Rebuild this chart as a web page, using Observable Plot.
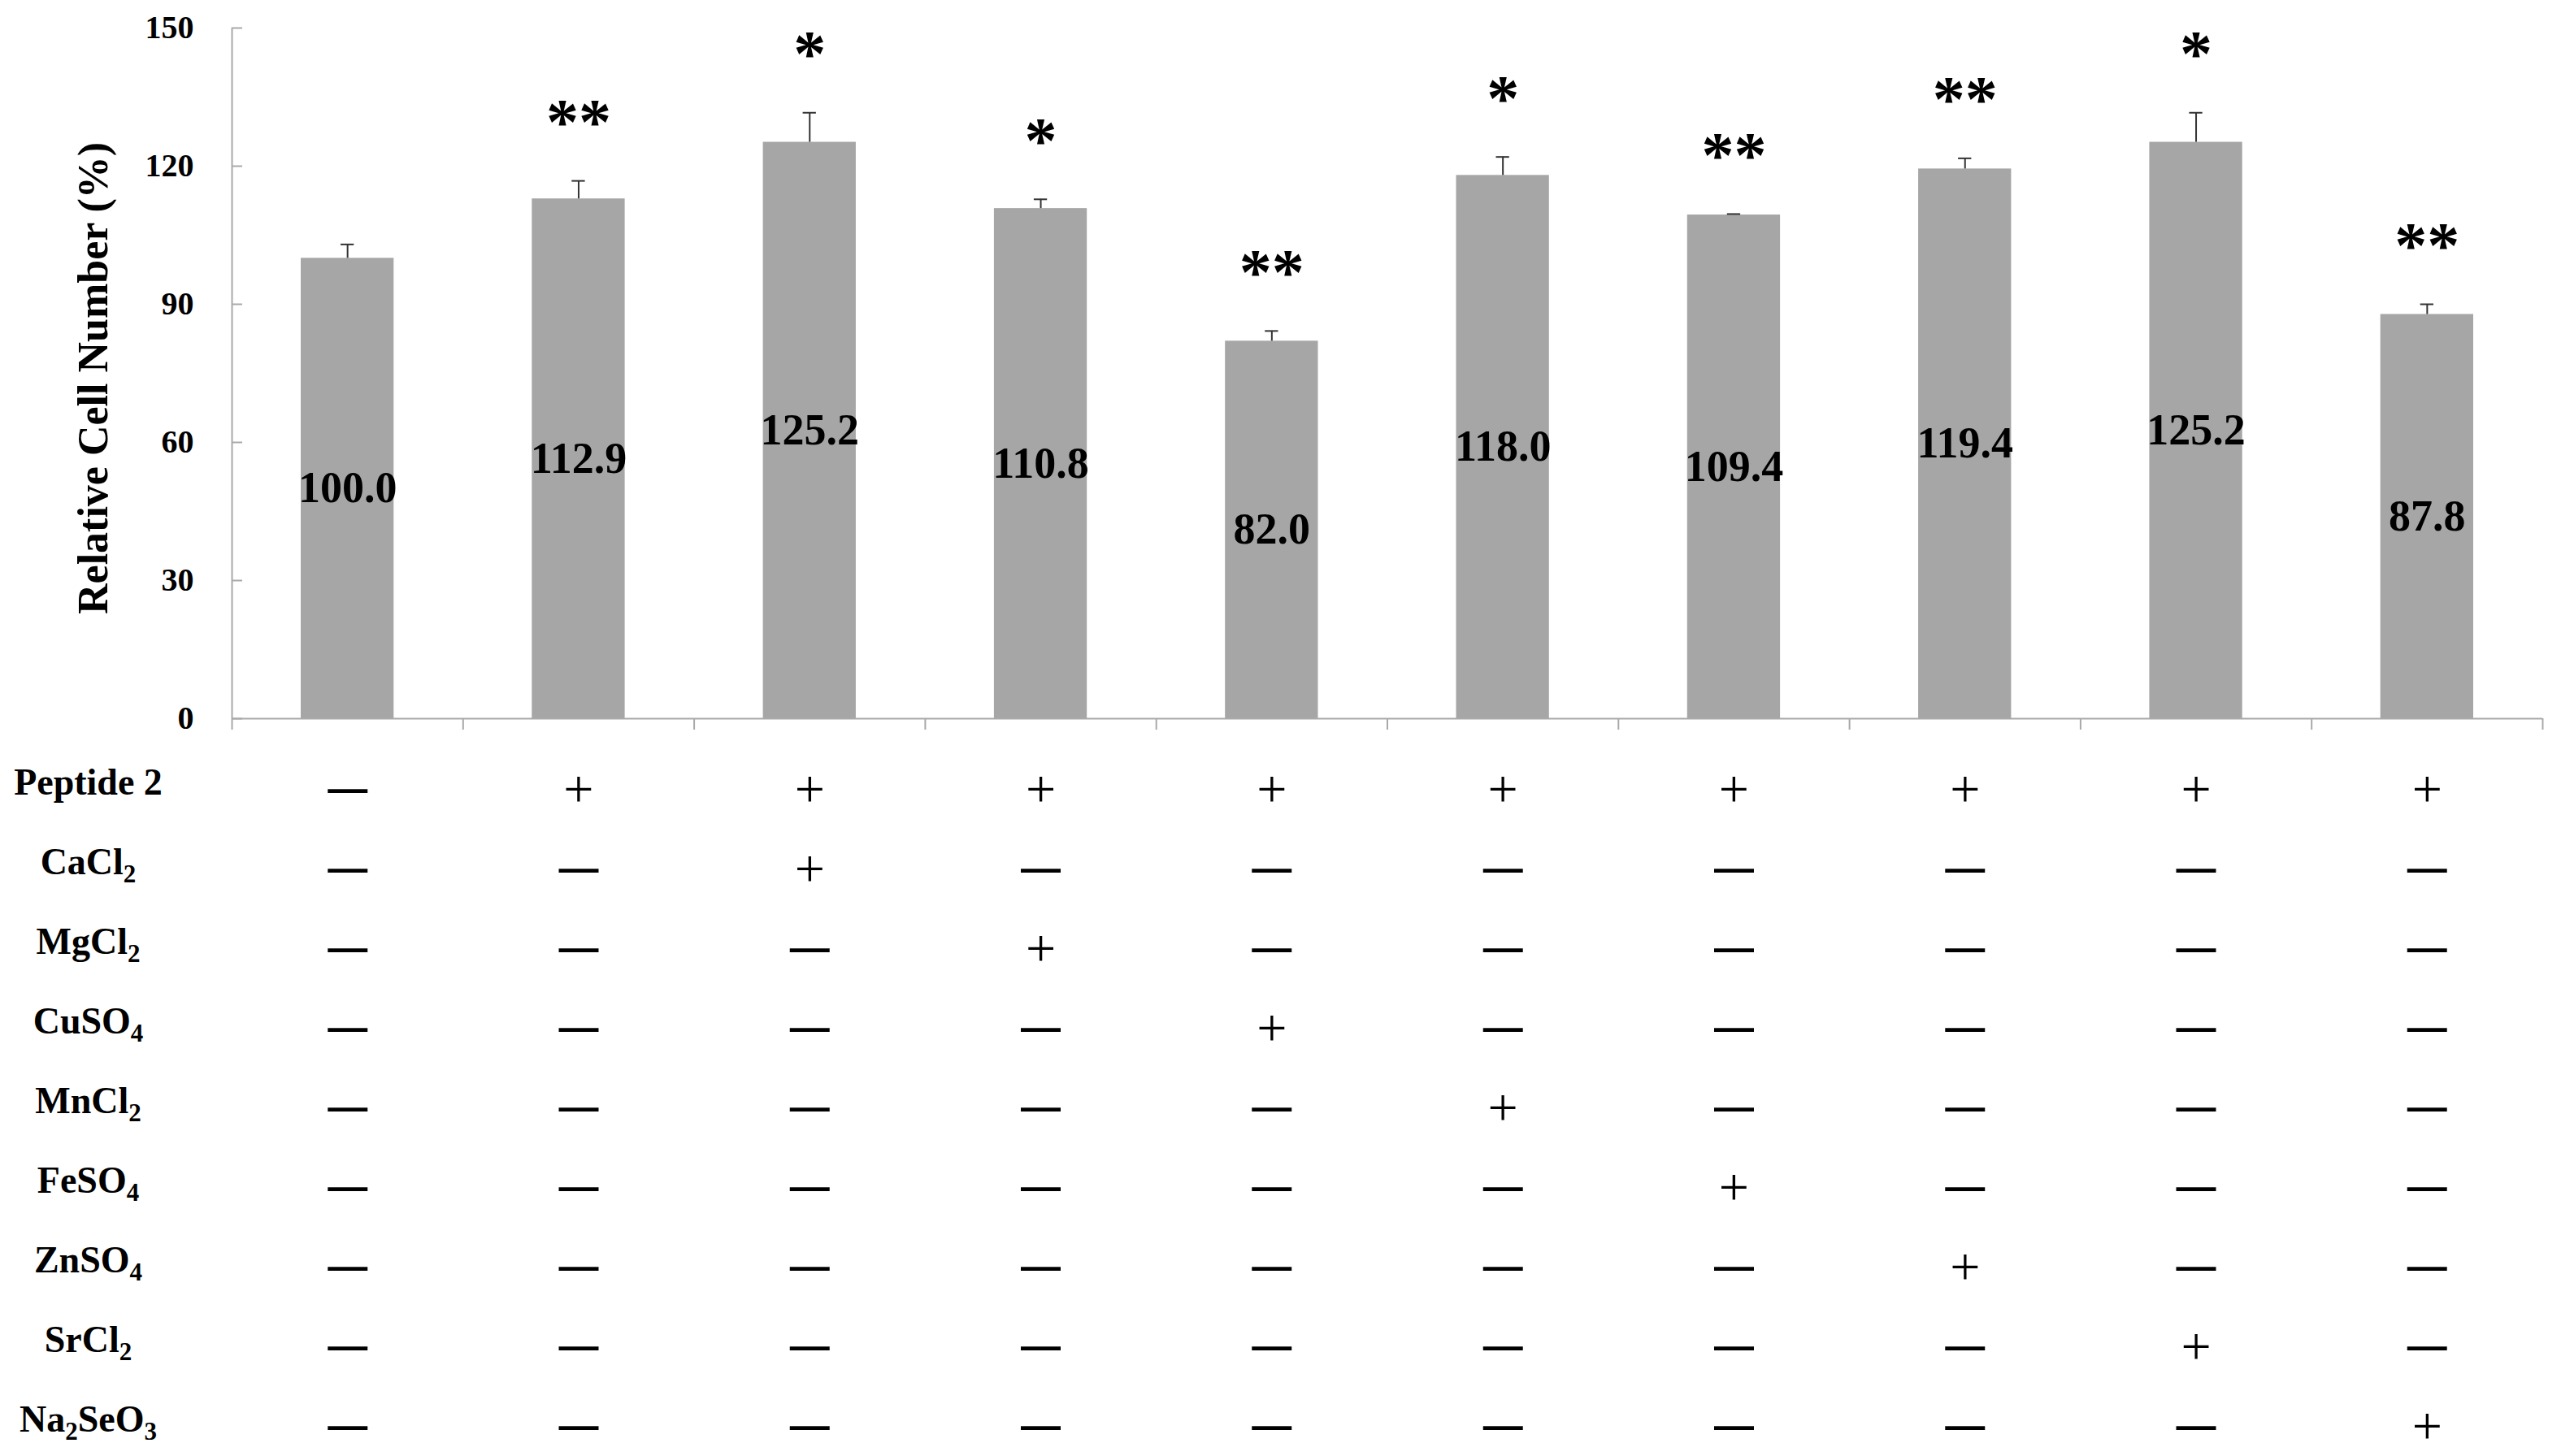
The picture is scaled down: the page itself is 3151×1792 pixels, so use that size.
<!DOCTYPE html>
<html><head><meta charset="utf-8">
<script src="https://cdn.jsdelivr.net/npm/d3@7"></script>
<script src="https://cdn.jsdelivr.net/npm/@observablehq/plot@0.6"></script>
<style>
html,body{margin:0;padding:0;background:#fff;overflow:hidden}
svg{display:block}
</style></head><body><div id="root"></div>
<script>
// ---- data ----
const values = [100.0, 112.9, 125.2, 110.8, 82.0, 118.0, 109.4, 119.4, 125.2, 87.8];
const errors = [3.0, 3.9, 6.4, 2.0, 2.2, 4.0, 0.2, 2.3, 6.4, 2.2];
const stars = ["", "**", "*", "*", "**", "*", "**", "**", "*", "**"];
const rowLabels = ["Peptide 2", "CaCl2", "MgCl2", "CuSO4", "MnCl2", "FeSO4", "ZnSO4", "SrCl2", "Na2SeO3"];
// for each column (bar), the rows that are "+"
const plusRows = [[], [0], [0, 1], [0, 2], [0, 3], [0, 4], [0, 5], [0, 6], [0, 7], [0, 8]];
const yTicks = [0, 30, 60, 90, 120, 150];
const yTitle = "Relative Cell Number (%)";

// ---- derived tables ----
const bars = values.map((v, i) => ({i, value: v, err: errors[i], top: v + errors[i], star: stars[i]}));
const cells = [];
plusRows.forEach((on, c) => rowLabels.forEach((r, k) => cells.push({col: c, row: r, on: on.includes(k)})));

const W = 3151;
const serif = "'Times New Roman','Liberation Serif',serif";
const axisGray = "#a9a9a9";

const chart = Plot.plot({
  width: W, height: 920,
  marginLeft: 285, marginRight: 23, marginTop: 34, marginBottom: 36,
  x: {type: "linear", domain: [0, 10]},
  y: {domain: [0, 150]},
  style: {fontFamily: serif, background: "white", color: "black"},
  marks: [
    Plot.rectY(bars, {x1: "i", x2: d => d.i + 1, y: "value", fill: "#a6a6a6", insetLeft: 85, insetRight: 85}),
    Plot.ruleX(bars, {x: d => d.i + 0.5, y1: "value", y2: "top", stroke: "#333", strokeWidth: 2}),
    Plot.ruleY(bars, {x1: "i", x2: d => d.i + 1, y: "top", insetLeft: 134, insetRight: 134, stroke: "#333", strokeWidth: 2}),
    Plot.ruleX([0], {stroke: axisGray, strokeWidth: 2}),
    Plot.ruleY([0], {stroke: axisGray, strokeWidth: 2}),
    Plot.axisX({ticks: d3.range(0, 11), tickSize: 14, tickFormat: () => "", stroke: axisGray, strokeWidth: 2, label: null}),
    Plot.axisY({ticks: yTicks, tickSize: 13, dx: 13, tickFormat: () => "", stroke: axisGray, strokeWidth: 2, label: null}),
    Plot.axisY({ticks: yTicks, tickSize: 0, tickPadding: 47, fontSize: 40, fontWeight: "bold", label: null}),
    Plot.text([yTitle], {frameAnchor: "left", textAnchor: "middle", dx: -170, dy: 6, rotate: -90, fontSize: 52, fontWeight: "bold", fill: "black"}),
    Plot.text(bars, {x: d => d.i + 0.5, y: d => d.value / 2, text: d => d.value.toFixed(1), fontSize: 54, fontWeight: "bold", fill: "black"}),
    Plot.text(bars.filter(d => d.star), {x: d => d.i + 0.5, y: "top", text: "star", fontSize: 80, fontWeight: "bold", dy: -71, fill: "black"})
  ]
});

const table = Plot.plot({
  width: W, height: 872,
  marginLeft: 285, marginRight: 23, marginTop: 50, marginBottom: 36,
  x: {type: "linear", domain: [0, 10], axis: null},
  y: {type: "point", domain: rowLabels, padding: 0, axis: null},
  style: {fontFamily: serif, background: "white", color: "black"},
  marks: [
    Plot.text(rowLabels, {y: d => d, frameAnchor: "left", dx: -177, dy: -8, textAnchor: "middle", fontSize: 46, fontWeight: "bold", fill: "black"}),
    Plot.text(cells.filter(d => !d.on), {x: d => d.col + 0.5, y: "row", text: () => "—", fontFamily: "'Liberation Sans',Arial,sans-serif", fontWeight: "bold", fontSize: 49, fill: "black"}),
    Plot.text(cells.filter(d => d.on), {x: d => d.col + 0.5, y: "row", text: () => "+", fontFamily: "'Liberation Serif',serif", fontSize: 66, fill: "black"})
  ]
});

// chemical subscripts
d3.select(table).selectAll("text").each(function() {
  const t = this.textContent;
  if (!/[A-Za-z]\d/.test(t)) return;
  const parts = t.split(/(?<=[A-Za-z])(\d)/).filter(s => s !== "");
  const el = d3.select(this);
  el.text(null);
  let inSub = false;
  parts.forEach(p => {
    const isSub = /^\d$/.test(p);
    const ts = el.append("tspan").text(p);
    if (isSub && !inSub) ts.attr("dy", 10).attr("font-size", 31);
    else if (isSub) ts.attr("font-size", 31);
    else if (inSub) ts.attr("dy", -10);
    inSub = isSub;
  });
});

const root = document.getElementById("root");
root.appendChild(chart);
root.appendChild(table);
</script>
</body></html>
